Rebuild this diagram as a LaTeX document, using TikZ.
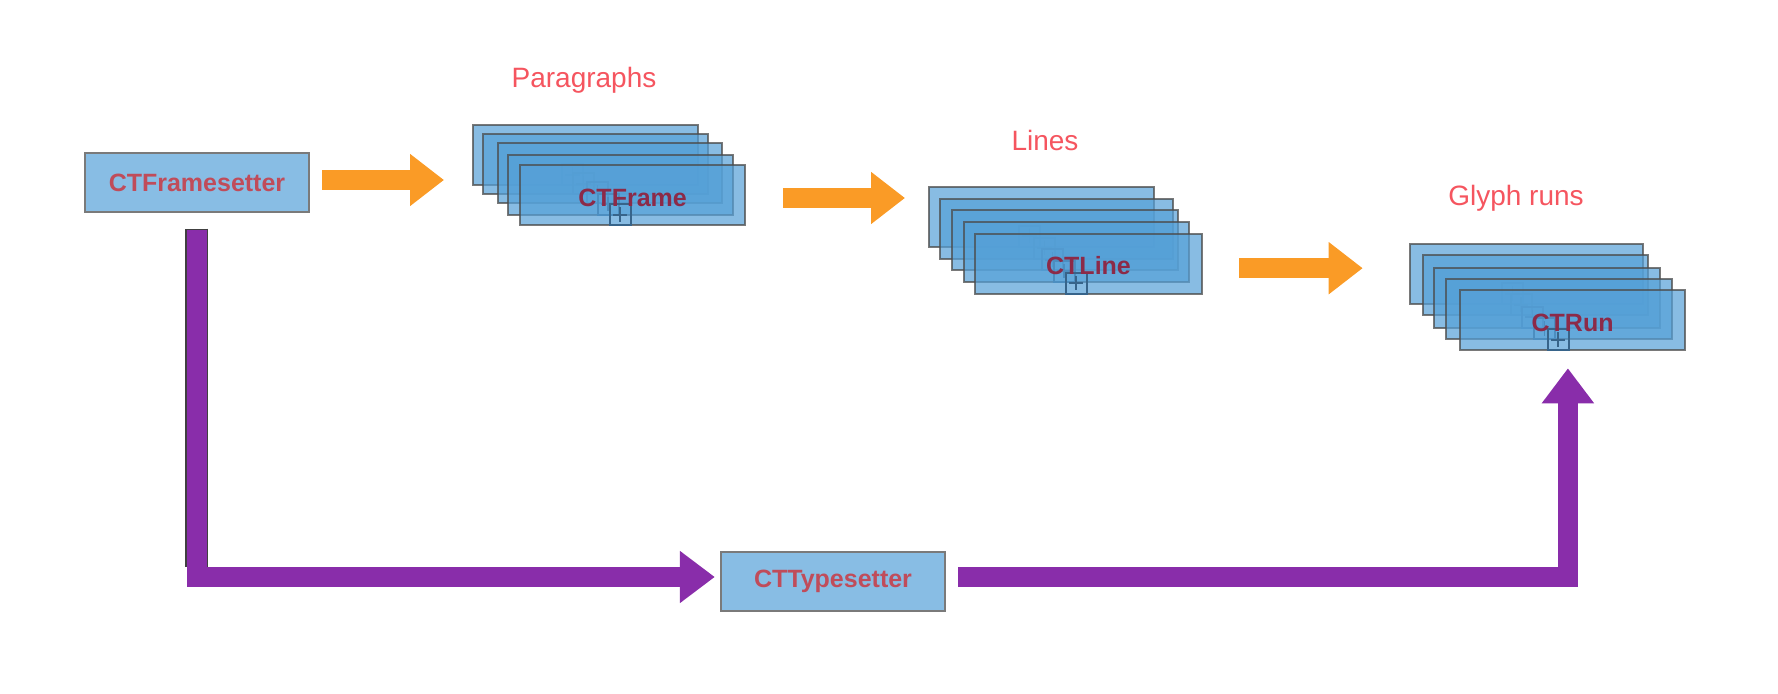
\documentclass[tikz,border=0pt]{standalone}
\usepackage{fontspec}
\setmainfont{Liberation Sans}
\usetikzlibrary{arrows.meta, positioning}

\definecolor{boxblue}{RGB}{136,189,228}
\definecolor{layerblue}{RGB}{85,160,215}
\definecolor{boxgray}{RGB}{122,122,122}
\definecolor{namered}{RGB}{192,76,90}
\definecolor{stackred}{RGB}{140,42,72}
\definecolor{labelred}{RGB}{245,85,95}
\definecolor{floworange}{RGB}{250,155,38}
\definecolor{typepurple}{RGB}{137,45,170}
\definecolor{plusblue}{RGB}{55,100,138}

\tikzset{
  box/.style={draw=boxgray, line width=1.2pt, fill=boxblue, minimum width=112pt,
    minimum height=29.5pt, inner sep=0pt, text=namered,
    font=\fontsize{12.5}{14}\selectfont\bfseries},
  layer/.style={draw=black!70, draw opacity=0.75, fill=layerblue, fill opacity=0.7,
    line width=1pt, minimum height=30pt, anchor=north west, inner sep=0pt},
  plusbox/.style={draw=plusblue, line width=1pt, minimum size=10.5pt, inner sep=0pt,
    anchor=south east,
    path picture={\draw[plusblue, line width=0.75pt]
      ([xshift=1.6pt]path picture bounding box.west) -- ([xshift=-1.6pt]path picture bounding box.east)
      ([yshift=-1.6pt]path picture bounding box.north) -- ([yshift=1.6pt]path picture bounding box.south);}},
  stacktext/.style={text=stackred, font=\fontsize{12.5}{14}\selectfont\bfseries},
  tag/.style={text=labelred, anchor=base, font=\fontsize{14}{16}\selectfont},
  flow/.style={draw=floworange, line width=10pt, -{Triangle[width=25pt, length=17pt]}},
  typeflow/.style={draw=typepurple, line width=10pt, line join=miter,
    -{Triangle[width=25pt, length=17.5pt]}}
}

\begin{document}
\begin{tikzpicture}[x=0.5pt, y=-0.5pt]
\useasboundingbox (0,0) rectangle (1778,694);

% single boxes
\node (setter) [box] at (197,182.5) {CTFramesetter};
\node (typesetter) [box] at (833,581.5) {CTTypesetter};

% stacked frames
\foreach \i/\dx/\dy/\w in {1/0/0/112.5, 2/10.6/9/112.5, 3/25/18/112.2, 4/35/29.4/112.8, 5/47.3/40/112.6} {
  \node (frame\i) [layer, minimum width=\w pt] at (471.7+\dx,124.3+\dy) {};
  \node (fplus\i) [plusbox] at ([xshift=-0.5pt]frame\i.south) {};
}
\node (frametext) [stacktext, yshift=-1.25pt] at (frame5) {CTFrame};
\node (paragraphs) [tag] at (584,88) {Paragraphs};

% stacked lines
\foreach \i/\dx/\dy/\w in {1/0/0/112.5, 2/11/12/116.5, 3/22.7/23.6/112.8, 4/34.4/35/112.8, 5/46/47/113.2} {
  \node (line\i) [layer, minimum width=\w pt] at (928.3+\dx,185.7+\dy) {};
  \node (lplus\i) [plusbox] at ([xshift=-0.5pt]line\i.south) {};
}
\node (linetext) [stacktext, yshift=-1pt] at (line5) {CTLine};
\node (lines) [tag] at (1045,151) {Lines};

% stacked runs
\foreach \i/\dx/\dy/\w in {1/0/0/116.5, 2/12.4/11/112.8, 3/24/23.4/112.7, 4/35.7/35/112.8, 5/49.7/46/112.6} {
  \node (run\i) [layer, minimum width=\w pt] at (1409.3+\dx,243.3+\dy) {};
  \node (rplus\i) [plusbox] at ([xshift=-1.5pt]run\i.south) {};
}
\node (runtext) [stacktext, yshift=-1.5pt] at (run5) {CTRun};
\node (glyphruns) [tag] at (1516,206) {Glyph runs};

% orange arrows
\draw [flow, shorten <=6pt, shorten >=13.85pt]
  ([yshift=1.25pt]setter.east) -- ([yshift=1.25pt]setter.east -| frame1.west);
\draw [flow, shorten <=18.35pt, shorten >=11.65pt]
  ([yshift=-1.35pt]frame5.east) -- ([yshift=-1.35pt]frame5.east -| line1.west);
\draw [flow, shorten <=18.3pt, shorten >=23.3pt]
  ([yshift=-2.25pt]line5.east) -- ([yshift=-2.25pt]line5.east -| run1.west);

% purple arrows
\draw [draw=black!75, line width=11.3pt, shorten <=7.75pt]
  ([xshift=-0.25pt]setter.south) -- ([xshift=-0.25pt, yshift=7.25pt]setter.south |- typesetter.west);
\draw [typeflow, shorten <=8.5pt, shorten >=2.5pt]
  ([xshift=-0.25pt]setter.south) |- ([yshift=2.25pt]typesetter.west);
\draw [typeflow, shorten <=6pt, shorten >=8.5pt]
  ([yshift=2.25pt]typesetter.east) -| ([xshift=-2.35pt]run5.south);
\end{tikzpicture}
\end{document}
